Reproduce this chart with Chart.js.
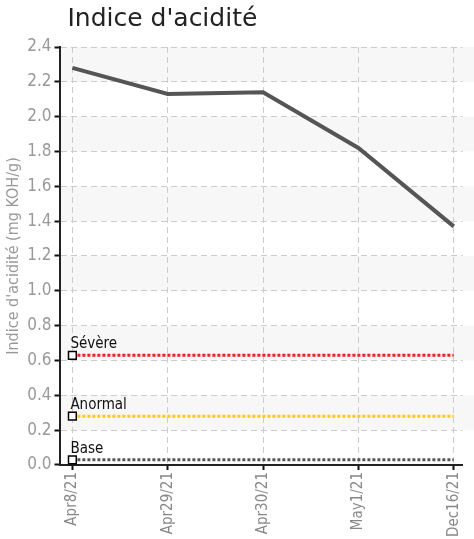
<!DOCTYPE html>
<html>
<head>
<meta charset="utf-8">
<script src="https://cdn.jsdelivr.net/npm/chart.js@4"></script>
<style>
  body { margin: 0; background: #fff; }
</style>
</head>
<body>
<canvas id="myChart" width="474" height="539"></canvas>
<script>
const dates = ["Apr8/21", "Apr29/21", "Apr30/21", "May1/21", "Dec16/21"];
const acidValues = [2.28, 2.13, 2.14, 1.82, 1.37];
const limitNames = ["Sévère", "Anormal", "Base"];
const limitValues = [0.63, 0.28, 0.03];
const limitColors = ["#ff1a1a", "#ffcc00", "#555555"];
const yTicks = [0, 0.2, 0.4, 0.6, 0.8, 1.0, 1.2, 1.4, 1.6, 1.8, 2.0, 2.2, 2.4];

const narrow = "'DejaVu Sans Condensed', 'Liberation Sans Narrow', sans-serif";

// alternating grey bands behind the grid
const bands = {
  id: "bands",
  beforeDraw(chart) {
    const ctx = chart.ctx, a = chart.chartArea, y = chart.scales.y;
    ctx.save();
    ctx.fillStyle = "#f7f7f7";
    for (let i = yTicks.length - 1; i > 0; i -= 2) {
      const top = y.getPixelForValue(yTicks[i]);
      const bot = y.getPixelForValue(yTicks[i - 1]);
      ctx.fillRect(a.left, top, chart.width - a.left, bot - top);
    }
    ctx.restore();
  }
};

// names of the limit lines, written over their first point
const limitLabels = {
  id: "limitLabels",
  afterDatasetsDraw(chart) {
    const ctx = chart.ctx;
    ctx.save();
    ctx.font = "15px " + narrow;
    ctx.fillStyle = "#111";
    ctx.textAlign = "left";
    ctx.textBaseline = "alphabetic";
    chart.data.datasets.forEach((ds, i) => {
      if (!ds.isLimit) return;
      const p = chart.getDatasetMeta(i).data[0];
      ctx.fillText(ds.label, p.x - 2, p.y - 7);
    });
    ctx.restore();
  }
};

const datasets = [{
  label: "Indice d'acidité",
  data: acidValues.map((v, i) => ({ x: i, y: v })),
  borderColor: "#555",
  borderWidth: 4,
  pointRadius: 0,
  tension: 0,
  order: 0
}];
limitNames.forEach((name, k) => {
  datasets.push({
    label: name,
    isLimit: true,
    data: [{ x: 0, y: limitValues[k] }, { x: dates.length - 1, y: limitValues[k] }],
    borderColor: limitColors[k],
    borderWidth: 3,
    borderDash: [3, 2],
    pointStyle: "rect",
    pointRadius: [5.5, 0],
    pointBackgroundColor: "#fff",
    pointBorderColor: "#000",
    pointBorderWidth: 1.5,
    order: 1
  });
});

new Chart("myChart", {
  type: "line",
  data: { datasets: datasets },
  options: {
    responsive: false,
    animation: false,
    layout: { padding: { left: 4, right: 0, top: 0, bottom: 0 } },
    plugins: {
      legend: { display: false },
      tooltip: { enabled: false },
      title: {
        display: true,
        text: " Indice d'acidité",
        align: "start",
        fullSize: false,
        color: "#222",
        font: { family: "'DejaVu Sans', sans-serif", size: 25, weight: "normal" },
        padding: { top: 4, bottom: 13 }
      }
    },
    scales: {
      x: {
        type: "linear",
        min: -0.135,
        max: 4.094,
        afterBuildTicks: s => { s.ticks = dates.map((d, i) => ({ value: i })); },
        ticks: {
          callback: v => dates[v],
          color: "#888",
          font: { family: narrow, size: 15 },
          minRotation: 90,
          maxRotation: 90,
          autoSkip: false,
          padding: 2
        },
        grid: {
          color: "#cccccc",
          tickColor: "#111",
          tickWidth: 2,
          tickLength: 5
        },
        border: { color: "#222", width: 2, dash: [6, 4] }
      },
      y: {
        min: 0,
        max: 2.4,
        afterBuildTicks: s => { s.ticks = yTicks.map(v => ({ value: v })); },
        ticks: {
          callback: v => v.toFixed(1),
          color: "#999",
          font: { family: narrow, size: 17 },
          padding: 3
        },
        grid: {
          color: "#cccccc",
          tickColor: "#111",
          tickWidth: 2,
          tickLength: 5
        },
        border: { color: "#222", width: 2, dash: [6, 4] },
        title: {
          display: true,
          text: "Indice d'acidité (mg KOH/g)",
          color: "#999",
          font: { family: narrow, size: 16 },
          padding: { top: 0, bottom: 1 }
        }
      }
    }
  },
  plugins: [bands, limitLabels]
});
</script>
</body>
</html>
